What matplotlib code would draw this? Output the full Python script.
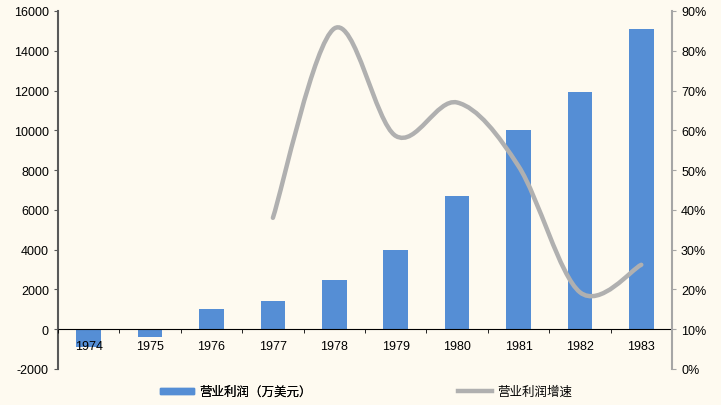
import numpy as np
import matplotlib.pyplot as plt
from matplotlib.path import Path
from matplotlib.patches import PathPatch
from matplotlib.lines import Line2D
from matplotlib.patches import Patch

plt.rcParams['font.family'] = ['Liberation Sans', 'Noto Sans CJK SC', 'DejaVu Sans']
plt.rcParams['axes.unicode_minus'] = False

years = ['1974', '1975', '1976', '1977', '1978', '1979', '1980', '1981', '1982', '1983']
profit = [-900, -400, 1000, 1400, 2500, 4000, 6700, 10000, 11950, 15100]   # 营业利润（万美元）
growth_years = ['1977', '1978', '1979', '1980', '1981', '1982', '1983']
growth = [38.0, 85.6, 58.6, 67.0, 51.0, 19.3, 26.2]                         # 营业利润增速 %

bg = '#FEFAF0'
bar_col = '#558ED5'
line_col = '#B0B0B0'

fig = plt.figure(figsize=(7.21, 4.06), dpi=100, facecolor=bg)
ax = fig.add_axes([58/721, 1-370/406, (672-58)/721, (370-12)/406])
ax.set_facecolor(bg)
ax.set_axisbelow(False)

x = np.arange(len(years))
ax.bar(x, profit, width=0.4, color=bar_col, zorder=1)
ax.set_xlim(-0.5, len(years)-0.5)
ax.set_ylim(-2000, 16000)
ax.set_yticks(range(-2000, 16001, 2000))
ax.tick_params(axis='y', labelsize=9, length=3, color='#595959', direction='out')

# category axis sits at zero
ax.spines['bottom'].set_position(('data', 0))
ax.spines['bottom'].set_color('black')
ax.spines['top'].set_visible(False)
ax.spines['right'].set_visible(False)
ax.spines['left'].set_color('#595959')
ax.spines['left'].set_linewidth(1.5)
ax.set_xticks(x)
ax.set_xticklabels(years)
ax.set_xticks(np.arange(-0.5, len(years)), minor=True)
ax.tick_params(axis='x', which='major', length=0, labelsize=9, pad=8)
ax.tick_params(axis='x', which='minor', length=3, direction='out', color='black')

ax2 = ax.twinx()
ax2.set_ylim(0, 90)
ax2.set_yticks(range(0, 91, 10))
ax2.set_yticklabels([f'{v}%' for v in range(0, 91, 10)])
ax2.tick_params(axis='y', labelsize=9, length=3, color='#A6A6A6')
for s in ['top', 'left', 'bottom']:
    ax2.spines[s].set_visible(False)
ax2.spines['right'].set_color('#A6A6A6')
ax2.spines['right'].set_linewidth(1.5)

# smoothed line (Excel-style cardinal bezier through the points)
gx = np.array([years.index(y) for y in growth_years], dtype=float)
gy = np.array(growth)
verts = [(gx[0], gy[0])]
codes = [Path.MOVETO]
n = len(gx)
for i in range(n - 1):
    p0 = (gx[max(i-1, 0)], gy[max(i-1, 0)])
    p1 = (gx[i], gy[i])
    p2 = (gx[i+1], gy[i+1])
    p3 = (gx[min(i+2, n-1)], gy[min(i+2, n-1)])
    c1 = (p1[0] + (p2[0]-p0[0])/6, p1[1] + (p2[1]-p0[1])/6)
    c2 = (p2[0] - (p3[0]-p1[0])/6, p2[1] - (p3[1]-p1[1])/6)
    verts += [c1, c2, p2]
    codes += [Path.CURVE4] * 3
ax2.add_patch(PathPatch(Path(verts, codes), fill=False, edgecolor=line_col,
                        linewidth=3.2, capstyle='round', zorder=3))

# legend entries placed separately, like the original
leg_kw = dict(loc='center left', frameon=False, fontsize=9, handlelength=2.7,
              handleheight=0.35, handletextpad=0.4, borderpad=0, borderaxespad=0)
leg1 = fig.legend([Patch(color=bar_col)], ['营业利润（万美元）'],
                  bbox_to_anchor=(160/721, 1-393/406), **leg_kw)
fig.add_artist(leg1)
fig.legend([Line2D([], [], color=line_col, linewidth=3.2)], ['营业利润增速'],
           bbox_to_anchor=(458/721, 1-393/406), **leg_kw)

fig.savefig('out.png', dpi=100, facecolor=bg)
